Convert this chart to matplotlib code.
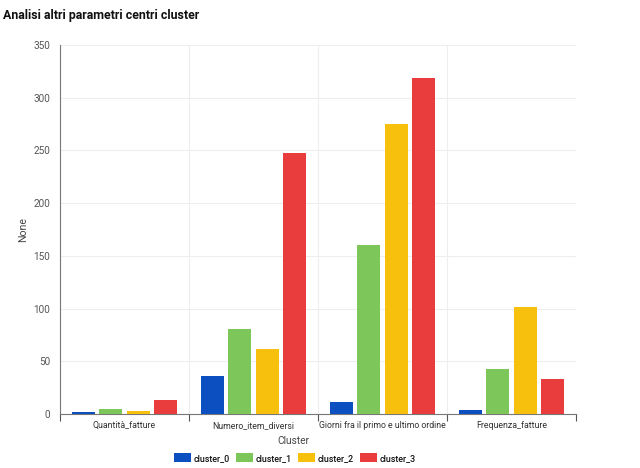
import matplotlib
matplotlib.use("Agg")
import matplotlib.pyplot as plt
import numpy as np
from matplotlib.patches import FancyBboxPatch
from matplotlib.legend_handler import HandlerPatch

plt.rcParams['font.family'] = ['Roboto', 'DejaVu Sans']

categories = ["Quantità_fatture", "Numero_item_diversi", "Giorni fra il primo e ultimo ordine", "Frequenza_fatture"]
series_names = ["cluster_0", "cluster_1", "cluster_2", "cluster_3"]
cluster_0 = [1.5, 36.5, 11.5, 3.5]
cluster_1 = [4.5, 80.5, 160.5, 42.5]
cluster_2 = [2.5, 61.5, 275.5, 101.5]
cluster_3 = [13.5, 247.5, 318.5, 33.5]
values = [cluster_0, cluster_1, cluster_2, cluster_3]
colors = ["#0b4fc1", "#7dc65a", "#f7c00c", "#e93d3d"]

fig = plt.figure(figsize=(6.4, 4.68), dpi=100)
ax = fig.add_axes([60/640, 1-414/468, 516/640, 369/468])

x = np.arange(len(categories))
w = 0.176
step = 0.212
for i, (name, vals) in enumerate(zip(series_names, values)):
    ax.bar(x + (i - 1.5) * step, vals, width=w, color=colors[i], label=name, zorder=3)

ax.set_xlim(-0.5, len(categories) - 0.5)
ax.set_ylim(0, 350)
ax.set_yticks(np.arange(0, 351, 50))
ax.set_xticks(x)
ax.set_xticklabels(categories)
ax.set_xticks(np.arange(-0.5, len(categories)), minor=True)
ax.tick_params(axis='x', which='major', length=0, labelsize=6.3, labelcolor='#333333', pad=5)
ax.tick_params(axis='x', which='minor', length=5, color='#555555', width=0.8)
ax.tick_params(axis='y', length=0, labelsize=7.2, labelcolor='#555555', pad=7)
ax.grid(axis='y', color='#eeeeee', linewidth=0.8, zorder=0)
ax.grid(axis='x', which='minor', color='#eeeeee', linewidth=0.8, zorder=0)
for s in ['top', 'right']:
    ax.spines[s].set_visible(False)
ax.spines['left'].set_color('#777777')
ax.spines['bottom'].set_color('#777777')
ax.spines['left'].set_linewidth(0.8)
ax.spines['bottom'].set_linewidth(0.8)

fig.text(23/640, 1-230/468, "None", fontsize=7.6, color='#444444', rotation=90, ha='center', va='center')
fig.text(293/640, 1-441/468, "Cluster", fontsize=7.3, color='#444444', ha='center', va='center')

fig.text(0.004, 1-15/468, "Analisi altri parametri centri cluster", fontsize=8.9, fontweight='bold', va='center', ha='left', color='#111111')

class RoundHandler(HandlerPatch):
    def create_artists(self, legend, orig_handle, xdescent, ydescent, width, height, fontsize, trans):
        p = FancyBboxPatch((-xdescent, -ydescent), width, height,
                           boxstyle="round,pad=0,rounding_size=3",
                           facecolor=orig_handle.get_facecolor(), edgecolor='none', transform=trans)
        return [p]

handles, labels = ax.get_legend_handles_labels()
leg = fig.legend(handles, labels, loc='center', bbox_to_anchor=(295/640, 1-458/468), ncol=4,
                 frameon=False, handlelength=1.9, handleheight=1.1, handletextpad=0.35,
                 columnspacing=0.65, handler_map={matplotlib.patches.Rectangle: RoundHandler()},
                 prop={'weight': 'medium', 'size': 6.4})
for t in leg.get_texts():
    t.set_color('#111111')

fig.savefig("out.png", dpi=100)
